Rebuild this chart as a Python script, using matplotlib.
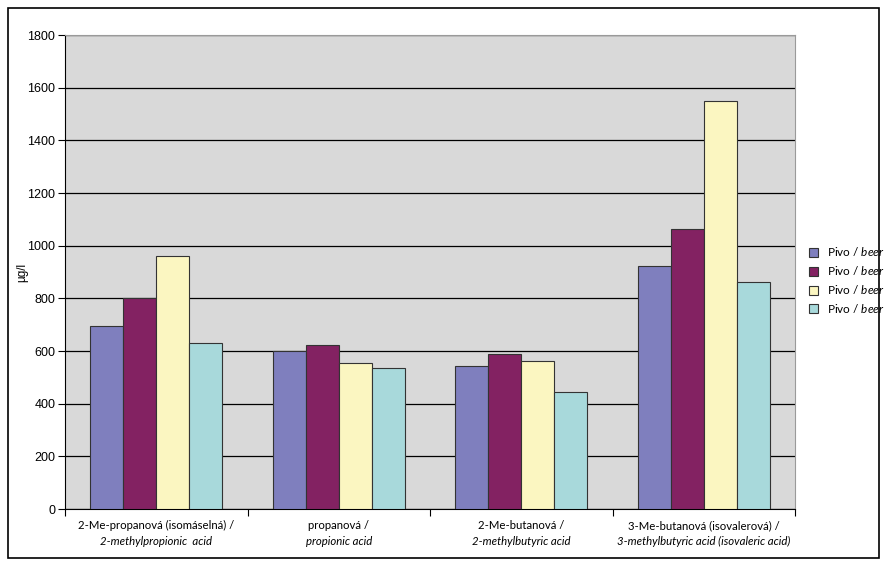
import matplotlib
matplotlib.use("Agg")
import matplotlib.pyplot as plt
from matplotlib.patches import Rectangle, Patch
import matplotlib.transforms as mtransforms
import numpy as np

plt.rcParams['font.family'] = ['Lato', 'DejaVu Sans']
plt.rcParams['mathtext.fontset'] = 'custom'
plt.rcParams['mathtext.rm'] = 'Lato'
plt.rcParams['mathtext.it'] = 'Lato:italic'

categories_cz = ["2-Me-propanová (isomáselná) /", "propanová /", "2-Me-butanová /", "3-Me-butanová (isovalerová) /"]
categories_en = ["2-methylpropionic  acid", "propionic acid", "2-methylbutyric acid", "3-methylbutyric acid (isovaleric acid)"]
series_labels = ["Pivo / $\\it{beer}$"] * 4
s1 = [695, 600, 543, 923]
s2 = [801, 623, 589, 1063]
s3 = [961, 554, 562, 1549]
s4 = [630, 535, 444, 862]
series = [s1, s2, s3, s4]
colors = ["#7F7FBE", "#832262", "#FBF6C1", "#A8D9DB"]
yticks = [0, 200, 400, 600, 800, 1000, 1200, 1400, 1600, 1800]

fig = plt.figure(figsize=(8.85, 5.66), dpi=100)
ax = fig.add_axes([65/885, 57/566, 730/885, 474/566])
ax.set_facecolor("#D9D9D9")

x = np.arange(len(categories_cz))
w = 0.181
for i, (vals, c) in enumerate(zip(series, colors)):
    ax.bar(x + (i - 1.5) * w, vals, width=w, color=c, edgecolor="#333333", linewidth=0.8, zorder=3, label=series_labels[i])

ax.set_xlim(-0.5, len(categories_cz) - 0.5)
ax.set_ylim(0, 1800)
ax.set_yticks(yticks)
ax.set_yticklabels([str(t) for t in yticks], fontfamily='Liberation Sans')
ax.tick_params(axis='y', labelsize=9, length=5, direction='out', colors='black', pad=2)
ax.grid(axis='y', color='black', linewidth=0.9, zorder=1)
ax.set_xticks(np.arange(-0.5, len(categories_cz)), [])
ax.tick_params(axis='x', length=5, direction='out')
for s in ['top', 'right']:
    ax.spines[s].set_color('#9a9a9a')
ax.spines['left'].set_color('black')
ax.spines['bottom'].set_color('black')

ax.set_ylabel("µg/l", fontsize=8.5, fontfamily='Liberation Sans')
ax.yaxis.set_label_coords(-0.05, 0.5)

trans = mtransforms.blended_transform_factory(ax.transData, ax.transAxes)
for xi, cz, en in zip(x, categories_cz, categories_en):
    ax.text(xi, -0.024, cz, transform=trans, ha='center', va='top', fontsize=8.2)
    ax.text(xi, -0.057, en, transform=trans, ha='center', va='top', fontsize=8.2, style='italic')

handles = [Patch(facecolor=c, edgecolor='#333333', linewidth=0.8) for c in colors]
fig.legend(handles, series_labels, loc='center left', bbox_to_anchor=(0.902, 0.505),
           frameon=False, fontsize=8.5, handlelength=0.8, handleheight=0.8,
           handletextpad=0.7, labelspacing=0.5)

fig.patches.append(Rectangle((8/885, 8/566), 871/885, 550/566, transform=fig.transFigure,
                             fill=False, edgecolor='black', linewidth=1.2))

fig.savefig("out.png", dpi=100)
